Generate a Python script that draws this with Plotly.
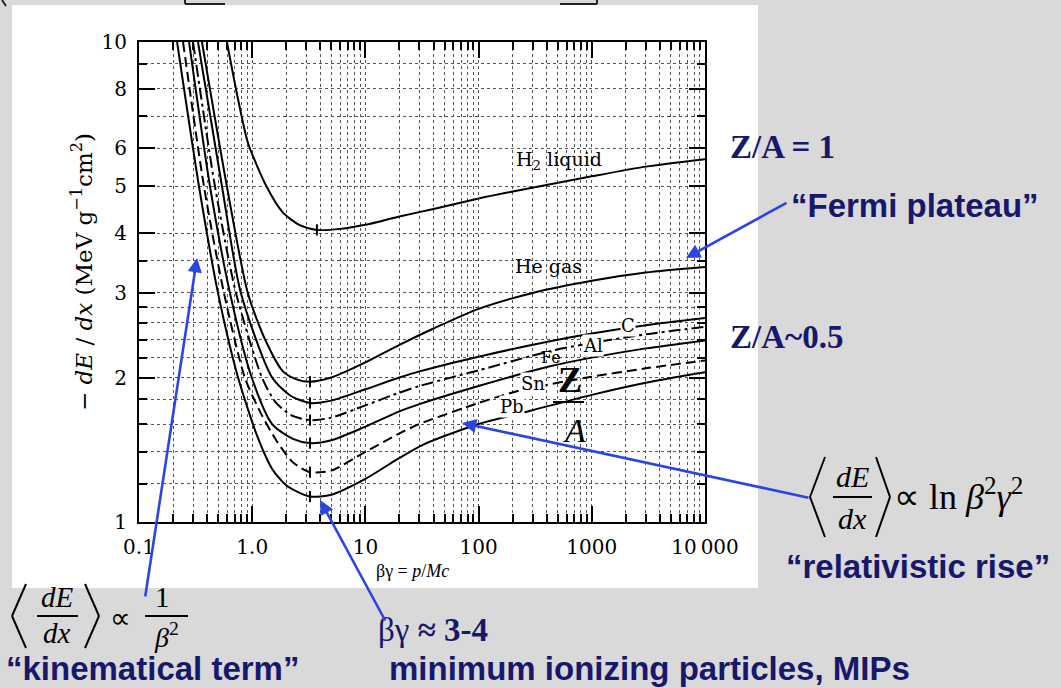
import plotly.graph_objects as go

# ---------------- data ----------------
h2_x = [0.598, 0.75, 0.918, 1.35, 1.87, 2.6, 3.73, 6, 10, 20, 40, 100, 200, 1000, 3000, 10000]
h2_y = [10.0, 7.6, 6.16, 4.98, 4.41, 4.16, 4.06, 4.08, 4.16, 4.33, 4.49, 4.72, 4.88, 5.25, 5.50, 5.70]

he_x = [0.36, 0.598, 0.914, 1.3, 1.87, 2.5, 3.24, 5, 10, 20, 40, 100, 300, 1000, 3000, 10000]
he_y = [10.0, 5.0, 3.0, 2.4, 2.06, 1.98, 1.96, 2.0, 2.15, 2.34, 2.53, 2.78, 3.0, 3.18, 3.31, 3.40]

c_x = [0.332, 0.541, 0.794, 1.5, 2.2, 3.24, 5, 10, 20, 30, 100, 428, 1000, 3000, 10000]
c_y = [10.0, 5.0, 3.0, 2.0, 1.83, 1.77, 1.79, 1.89, 2.0, 2.06, 2.21, 2.38, 2.47, 2.57, 2.66]

al_x = [0.300, 0.469, 0.719, 1.22, 1.6, 2.2, 3.24, 5, 10, 20, 30, 100, 428, 1000, 3000, 10000]
al_y = [10.0, 5.0, 3.0, 2.0, 1.78, 1.67, 1.63, 1.65, 1.75, 1.86, 1.92, 2.07, 2.27, 2.36, 2.46, 2.55]

fe_x = [0.277, 0.424, 0.636, 0.99, 1.5, 2.29, 3.24, 5, 10, 20, 30, 100, 428, 1000, 3000, 10000]
fe_y = [10.0, 5.0, 3.0, 2.0, 1.60, 1.49, 1.46, 1.48, 1.58, 1.70, 1.76, 1.92, 2.11, 2.20, 2.30, 2.39]

sn_x = [0.245, 0.375, 0.563, 0.86, 1.2, 1.66, 2.3, 3.24, 5, 10, 20, 30, 100, 232, 907, 3000, 10000]
sn_y = [10.0, 5.0, 3.0, 2.0, 1.68, 1.47, 1.33, 1.27, 1.28, 1.40, 1.53, 1.60, 1.77, 1.88, 2.0, 2.09, 2.17]

pb_x = [0.217, 0.339, 0.499, 0.75, 1.12, 1.5, 2.02, 3.24, 5, 10, 20, 32.5, 100, 300, 1000, 3000, 10000]
pb_y = [10.0, 5.0, 3.0, 2.0, 1.5, 1.29, 1.19, 1.13, 1.14, 1.23, 1.36, 1.45, 1.60, 1.71, 1.84, 1.95, 2.05]

min_x = [3.73, 3.24, 3.24, 3.24, 3.24, 3.24, 3.24]
min_y = [4.06, 1.96, 1.77, 1.63, 1.46, 1.27, 1.13]

x_tickvals = [0.1, 1, 10, 100, 1000, 10000]
x_ticktext = ["0.1", "1.0", "10", "100", "1000", "10\u2009000"]
y_tickvals = [1, 2, 3, 4, 5, 6, 8, 10]
y_ticktext = ["1", "2", "3", "4", "5", "6", "8", "10"]
y_minor = [1.2, 1.4, 1.6, 1.8, 2.2, 2.4, 2.6, 2.8, 3.5, 7, 9]

# ---------------- layout geometry ----------------
W, H = 1061, 688
L, R, T, B = 139, 705, 42, 522


def P(px, py):
    return (px - L) / (R - L), (B - py) / (B - T)


x_minor = [m * 10 ** d for d in range(-1, 4) for m in range(2, 10)]

curves = [
    (h2_x, h2_y, "solid"),
    (he_x, he_y, "solid"),
    (c_x, c_y, "solid"),
    (al_x, al_y, "12px,4px,3px,4px"),
    (fe_x, fe_y, "solid"),
    (sn_x, sn_y, "10px,5px"),
    (pb_x, pb_y, "solid"),
]

fig = go.Figure()
for xs, ys, dash in curves:
    fig.add_trace(go.Scatter(
        x=xs, y=ys, mode="lines",
        line=dict(color="black", width=2, dash=dash, shape="spline", smoothing=0.7),
        hoverinfo="skip", showlegend=False))

fig.add_trace(go.Scatter(
    x=min_x, y=min_y, mode="markers",
    marker=dict(symbol="line-ns", size=8, line=dict(color="black", width=2)),
    hoverinfo="skip", showlegend=False))

NAVY = "#17176b"
BLUE = "#2b45e3"
SERIF = "Liberation Serif"
SANS = "Liberation Sans"
CM = "DejaVu Serif"

annotations = []
shapes = []


def txt(px, py, text, size, family, color="black", bold=False, xanchor="center",
        yanchor="middle", bg=None, angle=0):
    x, y = P(px, py)
    if bold:
        text = "<b>" + text + "</b>"
    d = dict(x=x, y=y, xref="paper", yref="paper", text=text, showarrow=False,
             xanchor=xanchor, yanchor=yanchor, textangle=angle,
             font=dict(size=size, family=family, color=color))
    if bg:
        d["bgcolor"] = bg
        d["borderpad"] = 0
    annotations.append(d)


def line(p1, p2, color="black", width=2):
    x0, y0 = P(*p1)
    x1, y1 = P(*p2)
    shapes.append(dict(type="line", xref="paper", yref="paper", x0=x0, y0=y0, x1=x1, y1=y1,
                       line=dict(color=color, width=width)))


def arrow(head, tail):
    x, y = P(*head)
    annotations.append(dict(x=x, y=y, xref="paper", yref="paper", text="", showarrow=True,
                            ax=tail[0] - head[0], ay=tail[1] - head[1], axref="pixel", ayref="pixel",
                            arrowhead=2, arrowsize=1.1, arrowwidth=2.6, arrowcolor=BLUE, standoff=0))


# white scanned-figure background
x0, y1 = P(12, 5)
x1, y0 = P(758, 588)
shapes.append(dict(type="rect", xref="paper", yref="paper", x0=x0, y0=y0, x1=x1, y1=y1,
                   fillcolor="white", line=dict(width=0), layer="below"))

# remnants of text cut at the top of the slide
line((185, 0), (185, 4), "#222", 2)
line((185, 4), (225, 4), "#222", 2)
line((560, 4), (597, 4), "#222", 2)
line((597, 0), (597, 4), "#222", 2)
line((2, 0), (6, 6), "#222", 2)

# axis titles
txt(82, 272, "\u2212 <i>dE</i> / <i>dx</i> (MeV g<sup>\u22121</sup>cm<sup>2</sup>)", 23, CM, angle=-90)
txt(412, 571, "\u03b2\u03b3 = <i>p</i>/<i>Mc</i>", 18, SERIF)

# curve labels
txt(559, 160, "H<sub>2</sub> liquid", 19, CM)
txt(548, 266, "He gas", 19, CM)
txt(628, 325, "C", 18, CM, bg="white")
txt(593, 345, "Al", 18, CM, bg="white")
txt(551, 357, "Fe", 16, CM)
txt(533, 383, "Sn", 18, CM, bg="white")
txt(512, 406, "Pb", 18, CM, bg="white")
txt(570, 380, "Z", 36, SERIF, bold=True)
line((553, 402), (584, 402), "black", 2)
txt(574, 430, "<i>A</i>", 34, SERIF)

# slide annotations
txt(728, 147, "Z/A = 1", 33, SERIF, color=NAVY, bold=True, xanchor="left")
txt(789, 205, "\u201cFermi plateau\u201d", 33, SANS, color=NAVY, bold=True, xanchor="left")
txt(728, 337, "Z/A~0.5", 33, SERIF, color=NAVY, bold=True, xanchor="left")
txt(784, 566, "\u201crelativistic rise\u201d", 33, SANS, color=NAVY, bold=True, xanchor="left")
txt(4, 668, "\u201ckinematical term\u201d", 33, SANS, color=NAVY, bold=True, xanchor="left")
txt(376, 630, "\u03b2\u03b3 <b>\u2248 3-4</b>", 33, SERIF, color=NAVY, xanchor="left")
txt(387, 668, "minimum ionizing particles, MIPs", 33, SANS, color=NAVY, bold=True, xanchor="left")

# right formula  <dE/dx> ∝ ln β²γ²
line((825, 457), (810, 497))
line((810, 497), (825, 537))
txt(852, 476, "<i>dE</i>", 30, SERIF)
line((833, 497), (872, 497))
txt(852, 518, "<i>dx</i>", 30, SERIF)
line((876, 457), (890, 497))
line((890, 497), (876, 537))
txt(892, 494, "\u221d ln <i>\u03b2</i><sup>2</sup><i>\u03b3</i><sup>2</sup>", 36, SERIF, xanchor="left")

# left formula  <dE/dx> ∝ 1/β²
line((26, 584), (12, 616))
line((12, 616), (26, 648))
txt(57, 597, "<i>dE</i>", 29, SERIF)
line((37, 616), (78, 616))
txt(57, 633, "<i>dx</i>", 29, SERIF)
line((85, 584), (99, 616))
line((99, 616), (85, 648))
txt(120, 618, "\u221d", 29, SERIF)
txt(162, 597, "1", 29, SERIF)
line((145, 616), (188, 616))
txt(166, 635, "<i>\u03b2</i><sup>2</sup>", 28, SERIF)

# arrows
arrow((197, 258), (145, 598))
arrow((320, 500), (386, 622))
arrow((686, 258), (788, 202))
arrow((462, 423), (810, 498))

axis_common = dict(showline=True, linecolor="black", linewidth=2, mirror="allticks",
                   ticks="inside", tickcolor="black", tickwidth=1.5,
                   showgrid=True, gridcolor="#555555", griddash="dot", gridwidth=1,
                   zeroline=False)

fig.update_layout(
    width=W, height=H,
    margin=dict(l=L, r=W - R, t=T, b=H - B, pad=0),
    paper_bgcolor="#d9d9d9", plot_bgcolor="white",
    xaxis=dict(type="log", range=[-1, 4], tickmode="array", tickvals=x_tickvals, ticktext=x_ticktext,
               ticklen=16, tickfont=dict(family=CM, size=20, color="black"), ticklabelstandoff=6,
               minor=dict(tickmode="array", tickvals=x_minor, ticks="inside", ticklen=8,
                          tickcolor="black", showgrid=True, gridcolor="#555555", griddash="dot"),
               **axis_common),
    yaxis=dict(type="log", range=[0, 1], tickmode="array", tickvals=y_tickvals, ticktext=y_ticktext,
               ticklen=16, tickfont=dict(family=CM, size=20, color="black"), ticklabelstandoff=6,
               minor=dict(tickmode="array", tickvals=y_minor, ticks="inside", ticklen=8,
                          tickcolor="black", showgrid=True, gridcolor="#555555", griddash="dot"),
               **axis_common),
    annotations=annotations,
    shapes=shapes,
    showlegend=False,
)

fig.write_html("out.html", config={"displayModeBar": False},
               post_script="document.body.style.margin='0';document.body.style.background='#d9d9d9';")
